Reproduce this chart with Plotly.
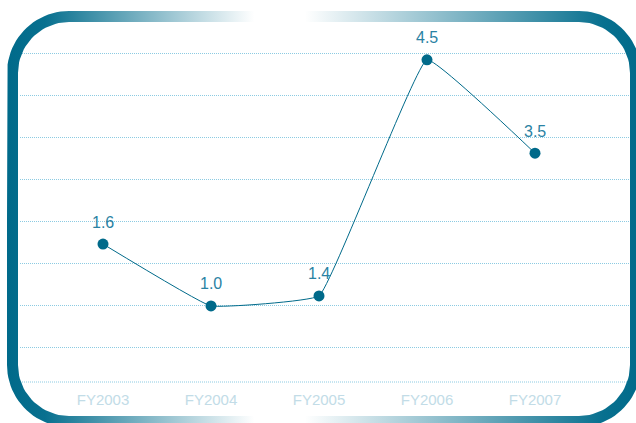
import numpy as np
import plotly.graph_objects as go

# ---- data ----
categories = ["FY2003", "FY2004", "FY2005", "FY2006", "FY2007"]
values = [3.46, 1.98, 2.22, 7.86, 5.63]        # plotted heights (grid units)
labels = ["1.6", "1.0", "1.4", "4.5", "3.5"]   # data label texts

W, H = 636, 423
DARK = "#006a8a"
GRID = "#8ccbe2"

fig = go.Figure()

fig.add_trace(go.Scatter(
    x=categories, y=values, mode="lines+markers",
    line=dict(color=DARK, width=1, shape="spline", smoothing=0.25),
    marker=dict(color=DARK, size=11),
    hoverinfo="skip", showlegend=False, cliponaxis=False,
    xaxis="x", yaxis="y",
))

for c, v, t in zip(categories, values, labels):
    fig.add_annotation(x=c, y=v, xref="x", yref="y", text=t, showarrow=False,
                       yshift=22, font=dict(family="Liberation Sans, Arial", size=16, color="#2a82a3"))

# ---- decorative rounded border with horizontal gradient ----
def rr(x0, y0, x1, y1, r, n=24):
    pts = []
    corners = [((x0 + r, y0 + r), 180, 270), ((x1 - r, y0 + r), 270, 360),
               ((x1 - r, y1 - r), 0, 90), ((x0 + r, y1 - r), 90, 180)]
    for (cx, cy), a0, a1 in corners:
        for a in np.linspace(np.radians(a0), np.radians(a1), n):
            pts.append((cx + r * np.cos(a), cy + r * np.sin(a)))
    return pts

ox0, oy0, ox1, oy1, R, SW = 7, 11, 641, 427, 62, 11
outer = rr(ox0, oy0, ox1, oy1, R)
inner = rr(ox0 + SW, oy0 + SW, ox1 - SW, oy1 - SW, R - SW)
ymid = (oy0 + oy1) / 2
ring = [(ox0, ymid)] + outer + [(ox0, ymid), (ox0 + SW, ymid)] + inner[::-1] + [(ox0 + SW, ymid), (ox0, ymid)]
rx = [p[0] for p in ring]
ry = [p[1] for p in ring]

fig.add_trace(go.Scatter(
    x=rx, y=ry, mode="lines", fill="toself", line=dict(width=0, color="rgba(0,0,0,0)"),
    fillgradient=dict(type="horizontal", colorscale=[
        [0.0, DARK], [0.06, "#08708f"], [0.39, "#ffffff"], [0.47, "#ffffff"],
        [0.94, "#08708f"], [1.0, DARK]]),
    hoverinfo="skip", showlegend=False, xaxis="x2", yaxis="y2",
))

# ---- layout ----
px_l, px_r, px_t, px_b = 20, 630, 22, 382
unit = 41.86
ybot = 1 - (px_b - 347) / unit
ytop = 1 + (347 - px_t) / unit
step = 108.0
xleft = -(103 - px_l) / step
xright = (px_r - 103) / step

fig.update_layout(
    width=W, height=H, margin=dict(l=0, r=0, t=0, b=0),
    paper_bgcolor="white", plot_bgcolor="rgba(0,0,0,0)",
    xaxis=dict(domain=[px_l / W, px_r / W], type="category", range=[xleft, xright],
               showgrid=False, zeroline=False, showline=False, ticks="",
               ticklabelstandoff=7,
               tickfont=dict(family="Liberation Sans, Arial", size=15, color="#c2dce7"),
               fixedrange=True),
    yaxis=dict(domain=[(H - px_b) / H, (H - px_t) / H], range=[ybot, ytop],
               dtick=1, tick0=0, showticklabels=False, showgrid=True,
               gridcolor=GRID, gridwidth=1, griddash="1px,1px",
               zeroline=False, showline=False, fixedrange=True),
    xaxis2=dict(domain=[0, 1], range=[0, W], visible=False, fixedrange=True),
    yaxis2=dict(domain=[0, 1], range=[H, 0], visible=False, fixedrange=True),
    shapes=[dict(type="line", xref="x domain", yref="y domain", x0=0, x1=1, y0=0, y1=0,
                 line=dict(color=GRID, width=1, dash="1px,1px"), layer="below")],
)

fig.write_html("out.html")
